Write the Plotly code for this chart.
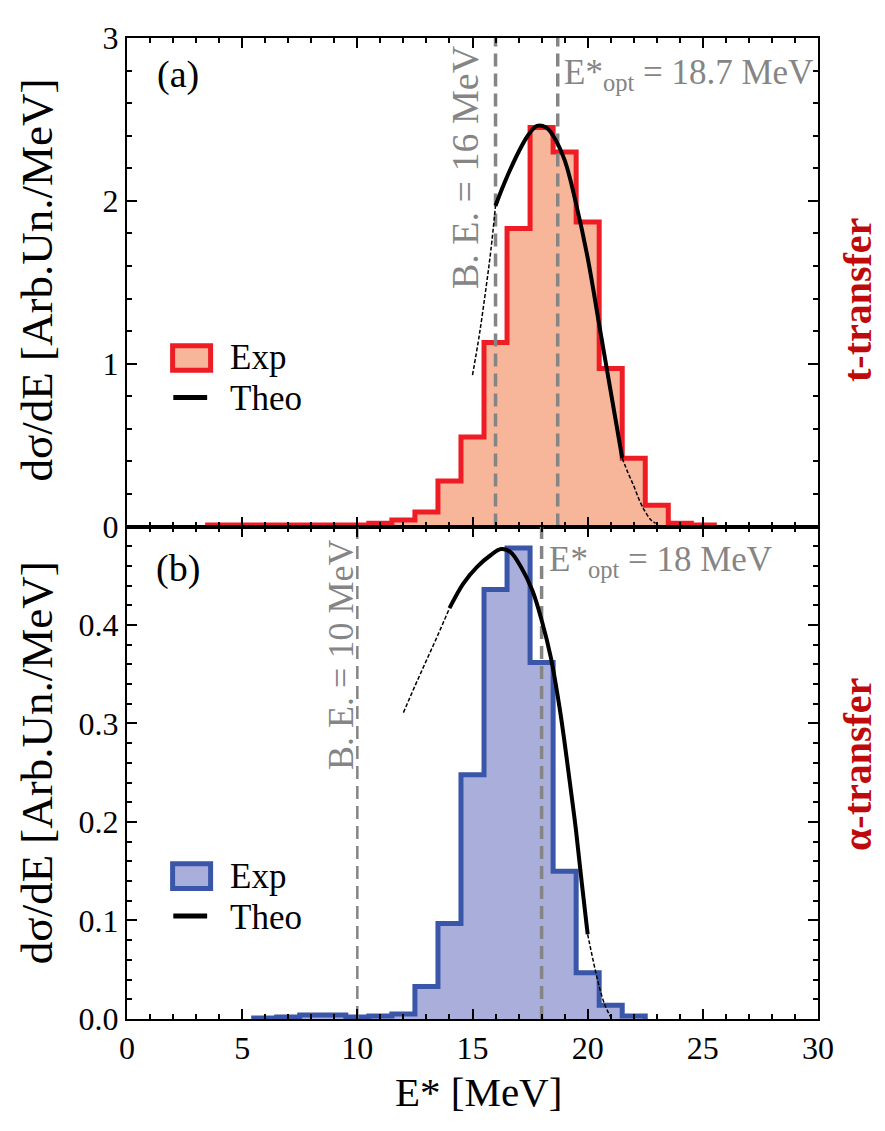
import plotly.graph_objects as go

# ---------------- data ----------------
# (a) t-transfer : histogram (1 MeV bins, centres)
top_centers = [4, 5, 6, 7, 8, 9, 10, 11, 12, 13, 14, 15, 16, 17, 18, 19, 20, 21, 22, 23, 24, 25]
top_exp = [0.01, 0.01, 0.01, 0.01, 0.01, 0.01, 0.01, 0.02, 0.04, 0.09, 0.28, 0.55, 1.13, 1.83,
           2.45, 2.30, 1.87, 0.97, 0.42, 0.13, 0.02, 0.01]
top_theo_x = [16.0, 16.3, 16.6, 17.0, 17.4, 17.8, 18.2, 18.5, 19.0, 19.5, 20.0, 20.5, 21.0, 21.5]
top_theo_y = [1.97, 2.08, 2.18, 2.30, 2.40, 2.46, 2.45, 2.40, 2.25, 1.98, 1.65, 1.24, 0.83, 0.42]
top_dot_left_x = [15.0, 15.3, 15.6, 15.8, 16.0]
top_dot_left_y = [0.93, 1.18, 1.48, 1.70, 1.97]
top_dot_right_x = [21.5, 21.75, 22.0, 22.25, 22.5, 22.75, 22.95]
top_dot_right_y = [0.42, 0.33, 0.25, 0.16, 0.09, 0.04, 0.02]
top_be = 16.0
top_eopt = 18.7

# (b) alpha-transfer
bot_centers = [6, 7, 8, 9, 10, 11, 12, 13, 14, 15, 16, 17, 18, 19, 20, 21, 22]
bot_exp = [0.001, 0.002, 0.004, 0.004, 0.002, 0.003, 0.005, 0.033, 0.097, 0.248, 0.436, 0.478,
           0.362, 0.150, 0.047, 0.014, 0.003]
bot_theo_x = [14.0, 14.6, 15.2, 15.8, 16.25, 16.65, 17.1, 17.6, 18.0, 18.4, 18.8, 19.2, 19.5, 19.75, 20.0]
bot_theo_y = [0.417, 0.442, 0.459, 0.471, 0.477, 0.474, 0.459, 0.435, 0.405, 0.367, 0.313, 0.245,
              0.190, 0.137, 0.086]
bot_dot_left_x = [12.0, 12.5, 13.0, 13.5, 14.0]
bot_dot_left_y = [0.311, 0.338, 0.364, 0.390, 0.417]
bot_dot_right_x = [20.0, 20.25, 20.5, 20.75, 21.0]
bot_dot_right_y = [0.086, 0.058, 0.033, 0.014, 0.002]
bot_be = 10.0
bot_eopt = 18.0

x_ticks = [0, 5, 10, 15, 20, 25, 30]
top_yrange = [0, 3]
bot_yrange = [0, 0.4999]

# ---------------- styles ----------------
FONT = "Liberation Serif, Times New Roman, serif"
RED = "#EE1C25"
RED_FILL = "#F7B59A"
BLUE = "#3A56A8"
BLUE_FILL = "#AAAEDA"
GRAY = "#858585"
DARKRED = "#BE0A0A"


def step_xy(centers, vals, width=1.0):
    lefts = [c - width / 2 for c in centers]
    xs = [lefts[0]] + lefts + [centers[-1] + width / 2]
    ys = [0] + list(vals) + [0]
    return xs, ys


fig = go.Figure()

panels = [
    dict(xa="x", ya="y", centers=top_centers, vals=top_exp, lc=RED, fc=RED_FILL,
         tx=top_theo_x, ty=top_theo_y, dlx=top_dot_left_x, dly=top_dot_left_y,
         drx=top_dot_right_x, dry=top_dot_right_y, vlines=[(top_be, 3.5), (top_eopt, 3.5)],
         yr=top_yrange),
    dict(xa="x2", ya="y2", centers=bot_centers, vals=bot_exp, lc=BLUE, fc=BLUE_FILL,
         tx=bot_theo_x, ty=bot_theo_y, dlx=bot_dot_left_x, dly=bot_dot_left_y,
         drx=bot_dot_right_x, dry=bot_dot_right_y, vlines=[(bot_be, 2.5), (bot_eopt, 3.5)],
         yr=bot_yrange),
]

for p in panels:
    sx, sy = step_xy(p["centers"], p["vals"])
    fig.add_trace(go.Scatter(x=sx, y=sy, mode="lines", line=dict(color=p["lc"], width=5, shape="hv"),
                             fill="tozeroy", fillcolor=p["fc"], xaxis=p["xa"], yaxis=p["ya"],
                             showlegend=False, hoverinfo="skip"))
    for xv, w in p["vlines"]:
        fig.add_trace(go.Scatter(x=[xv, xv], y=p["yr"], mode="lines",
                                 line=dict(color=GRAY, width=w, dash="13px,7px"),
                                 xaxis=p["xa"], yaxis=p["ya"], showlegend=False, hoverinfo="skip"))
    for dx, dy in [(p["dlx"], p["dly"]), (p["drx"], p["dry"])]:
        fig.add_trace(go.Scatter(x=dx, y=dy, mode="lines", line=dict(color="black", width=1.5, dash="4px,2px",
                                                                      shape="spline"),
                                 xaxis=p["xa"], yaxis=p["ya"], showlegend=False, hoverinfo="skip"))
    fig.add_trace(go.Scatter(x=p["tx"], y=p["ty"], mode="lines",
                             line=dict(color="black", width=4, shape="spline"),
                             xaxis=p["xa"], yaxis=p["ya"], showlegend=False, hoverinfo="skip"))

axis_common = dict(showline=True, linecolor="black", linewidth=2, mirror="ticks", ticks="inside",
                   ticklen=10, tickwidth=1.5, tickcolor="black", showgrid=False, zeroline=False,
                   tickfont=dict(family=FONT, size=32, color="black"))

# page body has an 8px margin, so the figure is sized to fit inside the window
fig.update_layout(
    width=877, height=1123,
    margin=dict(l=119, r=67, t=19, b=112),
    paper_bgcolor="white", plot_bgcolor="white",
    font=dict(family=FONT, color="black"),
    xaxis=dict(domain=[0, 1], anchor="y", range=[0, 30], tickvals=x_ticks, showticklabels=False,
               minor=dict(ticks="inside", ticklen=5, dtick=1, tickwidth=1.5, tickcolor="black"),
               **axis_common),
    yaxis=dict(domain=[0.502, 1], anchor="x", range=top_yrange, tickmode="linear", tick0=0, dtick=1,
               minor=dict(ticks="inside", ticklen=5, dtick=0.2, tickwidth=1.5, tickcolor="black"),
               **axis_common),
    xaxis2=dict(domain=[0, 1], anchor="y2", range=[0, 30], tickvals=x_ticks, matches="x",
                minor=dict(ticks="inside", ticklen=5, dtick=1, tickwidth=1.5, tickcolor="black"),
                **axis_common),
    yaxis2=dict(domain=[0, 0.502], anchor="x2", range=bot_yrange, tickmode="linear", tick0=0, dtick=0.1,
                tickformat=".1f",
                minor=dict(ticks="inside", ticklen=5, dtick=0.02, tickwidth=1.5, tickcolor="black"),
                **axis_common),
)

ann = []
shapes = []

# panel labels
ann.append(dict(text="(a)", xref="x domain", yref="y domain", x=0.074, y=0.925, showarrow=False,
                xanchor="center", yanchor="middle", font=dict(family=FONT, size=38, color="black")))
ann.append(dict(text="(b)", xref="x2 domain", yref="y2 domain", x=0.074, y=0.914, showarrow=False,
                xanchor="center", yanchor="middle", font=dict(family=FONT, size=38, color="black")))

# B.E. and E*opt annotations
ann.append(dict(text="B. E. = 16 MeV", xref="x", yref="y domain", x=top_be, xshift=-30, y=0.735,
                showarrow=False, textangle=-90, xanchor="center", yanchor="middle",
                font=dict(family=FONT, size=38, color=GRAY)))
ann.append(dict(text="E*<sub>opt</sub> = 18.7 MeV", xref="x", yref="y domain", x=top_eopt, xshift=4,
                y=0.925, showarrow=False, xanchor="left", yanchor="middle",
                font=dict(family=FONT, size=35, color=GRAY)))
ann.append(dict(text="B. E. = 10 MeV", xref="x2", yref="y2 domain", x=bot_be, xshift=-17, y=0.74,
                showarrow=False, textangle=-90, xanchor="center", yanchor="middle",
                font=dict(family=FONT, size=36, color=GRAY)))
ann.append(dict(text="E*<sub>opt</sub> = 18 MeV", xref="x2", yref="y2 domain", x=bot_eopt, xshift=5,
                y=0.93, showarrow=False, xanchor="left", yanchor="middle",
                font=dict(family=FONT, size=35, color=GRAY)))

# legends (manual)
for xa, ya, lc, fc, r0, r1, ly, ty_exp, ty_theo in [
    ("x", "y", RED, RED_FILL, 0.320, 0.370, 0.264, 0.345, 0.262),
    ("x2", "y2", BLUE, BLUE_FILL, 0.265, 0.315, 0.209, 0.290, 0.207),
]:
    shapes.append(dict(type="rect", xref=f"{xa} domain", yref=f"{ya} domain", x0=0.066, x1=0.121,
                       y0=r0, y1=r1, line=dict(color=lc, width=5), fillcolor=fc, layer="above"))
    shapes.append(dict(type="line", xref=f"{xa} domain", yref=f"{ya} domain", x0=0.067, x1=0.116,
                       y0=ly, y1=ly, line=dict(color="black", width=5), layer="above"))
    ann.append(dict(text="Exp", xref=f"{xa} domain", yref=f"{ya} domain", x=0.146, y=ty_exp,
                    showarrow=False, xanchor="left", yanchor="middle",
                    font=dict(family=FONT, size=35, color="black")))
    ann.append(dict(text="Theo", xref=f"{xa} domain", yref=f"{ya} domain", x=0.146, y=ty_theo,
                    showarrow=False, xanchor="left", yanchor="middle",
                    font=dict(family=FONT, size=35, color="black")))

# axis titles
ann.append(dict(text="dσ/dE [Arb.Un./MeV]", xref="paper", yref="paper", x=-0.130, y=0.753,
                showarrow=False, textangle=-90, xanchor="center", yanchor="middle",
                font=dict(family=FONT, size=45, color="black")))
ann.append(dict(text="dσ/dE [Arb.Un./MeV]", xref="paper", yref="paper", x=-0.130, y=0.261,
                showarrow=False, textangle=-90, xanchor="center", yanchor="middle",
                font=dict(family=FONT, size=45, color="black")))
ann.append(dict(text="E* [MeV]", xref="paper", yref="paper", x=0.508, y=-0.0746,
                showarrow=False, xanchor="center", yanchor="middle",
                font=dict(family=FONT, size=41, color="black")))

# side labels
ann.append(dict(text="<b>t-transfer</b>", xref="paper", yref="paper", x=1.058, y=0.733,
                showarrow=False, textangle=-90, xanchor="center", yanchor="middle",
                font=dict(family=FONT, size=40, color=DARKRED)))
ann.append(dict(text="<b>α-transfer</b>", xref="paper", yref="paper", x=1.058, y=0.259,
                showarrow=False, textangle=-90, xanchor="center", yanchor="middle",
                font=dict(family=FONT, size=40, color=DARKRED)))

fig.update_layout(annotations=ann, shapes=shapes)

fig.write_html("out.html")
